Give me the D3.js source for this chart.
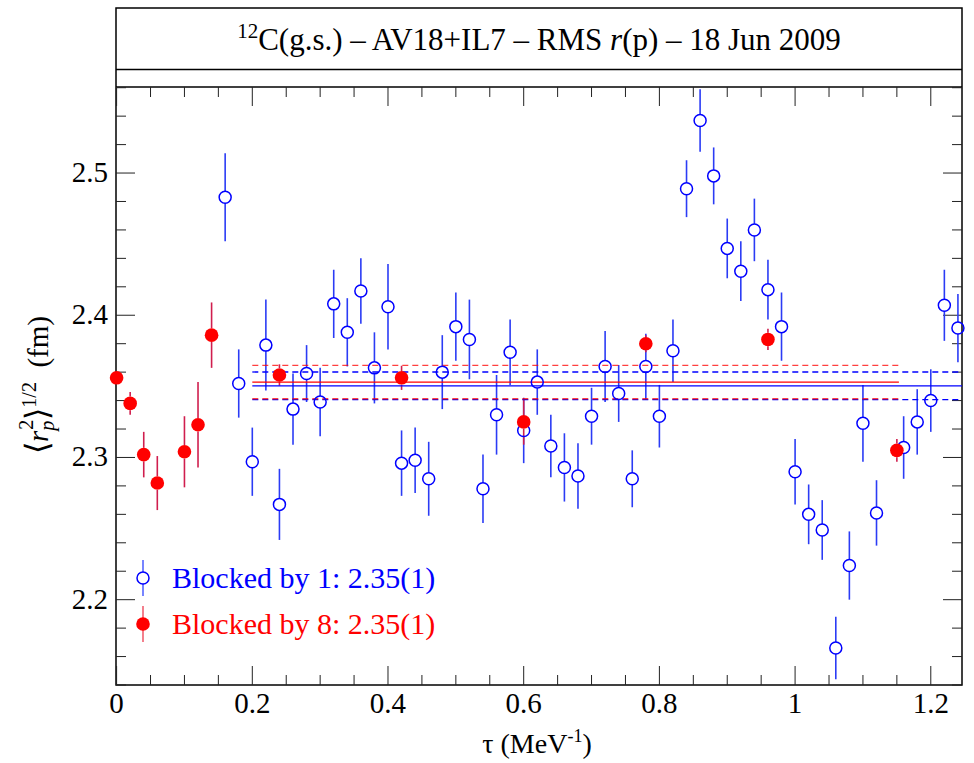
<!DOCTYPE html>
<html>
<head>
<meta charset="utf-8">
<script src="https://cdn.jsdelivr.net/npm/d3@7"></script>
<style>
  body { margin: 0; background: #fff; }
  svg { display: block; }
  text { font-family: "Liberation Serif", "Times New Roman", serif; }
</style>
</head>
<body>
<svg width="974" height="763"></svg>
<script>
// Blocked by 1 (open blue circles)
const blueTau = [0.16,0.18,0.20,0.22,0.24,0.26,0.28,0.30,0.32,0.34,0.36,0.38,0.40,0.42,0.44,0.46,0.48,0.50,0.52,0.54,
  0.56,0.58,0.60,0.62,0.64,0.66,0.68,0.70,0.72,0.74,0.76,0.78,0.80,0.82,0.84,0.86,0.88,0.90,0.92,0.94,
  0.96,0.98,1.00,1.02,1.04,1.06,1.08,1.10,1.12,1.16,1.18,1.20,1.22,1.24];
const blueVal = [2.483,2.352,2.297,2.379,2.267,2.334,2.359,2.339,2.408,2.388,2.417,2.363,2.406,2.296,2.298,2.285,2.360,2.392,2.383,2.278,
  2.330,2.374,2.319,2.353,2.308,2.293,2.287,2.329,2.364,2.345,2.285,2.364,2.329,2.375,2.489,2.537,2.498,2.447,2.431,2.460,
  2.418,2.392,2.290,2.260,2.249,2.166,2.224,2.324,2.261,2.307,2.325,2.340,2.407,2.391];
const blueErr = [0.031,0.024,0.024,0.032,0.025,0.025,0.020,0.024,0.024,0.024,0.023,0.025,0.030,0.023,0.023,0.026,0.026,0.024,0.028,0.024,
  0.028,0.023,0.023,0.023,0.022,0.024,0.023,0.020,0.025,0.020,0.020,0.023,0.022,0.022,0.020,0.022,0.020,0.021,0.021,0.022,
  0.021,0.024,0.023,0.021,0.021,0.022,0.024,0.027,0.023,0.022,0.023,0.022,0.025,0.024];

// Blocked by 8 (filled red circles)
const redTau = [0, 0.02, 0.04, 0.06, 0.10, 0.12, 0.14, 0.24, 0.42, 0.60, 0.78, 0.96, 1.15];
const redVal = [2.356, 2.338, 2.302, 2.282, 2.304, 2.323, 2.386, 2.358, 2.356, 2.325, 2.380, 2.383, 2.305];
const redErr = [0.003, 0.008, 0.016, 0.019, 0.025, 0.030, 0.023, 0.0075, 0.0085, 0.016, 0.006, 0.0075, 0.008];

// averages: blue, red
const fitMean = [2.3504, 2.3530];
const fitErr = [0.0097, 0.0117];
const fitFrom = [0.2, 0.2];
const fitTo = [1.246, 1.153];

const legendText = ["Blocked by 1: 2.35(1)", "Blocked by 8: 2.35(1)"];
const xTicks = [0, 0.2, 0.4, 0.6, 0.8, 1, 1.2];
const yTicks = [2.2, 2.3, 2.4, 2.5];

const BLUE = "#0000ff", RED = "#ff0000";

var svg = d3.select("svg");
var pLeft = 116, pRight = 962, pTop = 87, pBottom = 685;

var x = d3.scaleLinear().domain([0, 1.246]).range([116.6, 962]);
var y = d3.scaleLinear().domain([2.14, 2.5605]).range([pBottom, pTop]);

// frame + title box
svg.append("rect").attr("x", pLeft).attr("y", 8).attr("width", pRight - pLeft).attr("height", pBottom - 8)
  .attr("fill", "none").attr("stroke", "#000").attr("stroke-width", 1.5);
svg.append("line").attr("x1", pLeft).attr("x2", pRight).attr("y1", 69.5).attr("y2", 69.5)
  .attr("stroke", "#000").attr("stroke-width", 1.5);
svg.append("line").attr("x1", pLeft).attr("x2", pRight).attr("y1", pTop).attr("y2", pTop)
  .attr("stroke", "#000").attr("stroke-width", 1.5);

var title = svg.append("text").attr("x", (pLeft + pRight) / 2).attr("y", 50)
  .attr("text-anchor", "middle").attr("font-size", 31);
title.append("tspan").attr("font-size", 21).attr("dy", -12).text("12");
title.append("tspan").attr("dy", 12).text("C(g.s.) \u2013 AV18+IL7 \u2013 RMS ");
title.append("tspan").attr("font-style", "italic").text("r");
title.append("tspan").text("(p) \u2013 18 Jun 2009");

// ticks
var g = svg.append("g").attr("stroke", "#222").attr("stroke-width", 1);
var xMinor = d3.range(0, 1.2501, 0.05).filter(v => v <= 1.246);
xMinor.forEach(function (v) {
  var major = Math.abs(v / 0.2 - Math.round(v / 0.2)) < 1e-6;
  var len = major ? 19 : 10;
  g.append("line").attr("x1", x(v)).attr("x2", x(v)).attr("y1", pBottom).attr("y2", pBottom - len);
  g.append("line").attr("x1", x(v)).attr("x2", x(v)).attr("y1", pTop).attr("y2", pTop + len);
});
var yMinor = d3.range(2.14, 2.5605, 0.02);
yMinor.forEach(function (v) {
  var major = Math.abs(v * 10 - Math.round(v * 10)) < 1e-6;
  var len = major ? 19 : 10;
  g.append("line").attr("x1", pLeft).attr("x2", pLeft + len).attr("y1", y(v)).attr("y2", y(v));
  g.append("line").attr("x1", pRight).attr("x2", pRight - len).attr("y1", y(v)).attr("y2", y(v));
});

// tick labels
svg.selectAll(".xl").data(xTicks).enter().append("text")
  .attr("x", d => x(d)).attr("y", 713).attr("text-anchor", "middle").attr("font-size", 29)
  .text(d => d3.format("~g")(d));
svg.selectAll(".yl").data(yTicks).enter().append("text")
  .attr("x", 108).attr("y", d => y(d) + 9).attr("text-anchor", "end").attr("font-size", 29)
  .text(d => d3.format(".1f")(d));

// axis titles
var xt = svg.append("text").attr("x", 537).attr("y", 753).attr("text-anchor", "middle").attr("font-size", 28);
xt.append("tspan").text("\u03c4 (MeV");
xt.append("tspan").attr("font-size", 18).attr("dy", -11).text("-1");
xt.append("tspan").attr("dy", 11).text(")");

var yt = svg.append("text").attr("transform", "translate(48,385) rotate(-90)")
  .attr("text-anchor", "middle").attr("font-size", 29);
yt.append("tspan").attr("font-size", 32).text("\u27e8");
yt.append("tspan").attr("font-style", "italic").text("r");
yt.append("tspan").attr("font-style", "italic").attr("font-size", 20).attr("dy", 6).text("p");
yt.append("tspan").attr("font-size", 20).attr("dx", -9).attr("dy", -21).text("2");
yt.append("tspan").attr("font-size", 32).attr("dy", 15).text("\u27e9");
yt.append("tspan").attr("font-size", 20).attr("dy", -12).text("1/2");
yt.append("tspan").attr("dy", 12).text("\u2002(fm)");

// clip error bars to frame (markers are not clipped)
svg.append("clipPath").attr("id", "clip").append("rect")
  .attr("x", pLeft).attr("y", pTop).attr("width", pRight - pLeft).attr("height", pBottom - pTop);
var plot = svg.append("g").attr("clip-path", "url(#clip)");
var marks = svg.append("g");

function drawSeries(tau, val, err, color, barColor, r, filled) {
  var pts = tau.map((t, i) => ({t: t, v: val[i], e: err[i]}));
  var s = plot.append("g"), m = marks.append("g");
  pts.forEach(function (d) {
    var cx = x(d.t), cy = y(d.v), hi = y(d.v + d.e), lo = y(d.v - d.e);
    if (cy - r > hi) s.append("line").attr("x1", cx).attr("x2", cx).attr("y1", hi).attr("y2", cy - r)
      .attr("stroke", barColor).attr("stroke-width", 1.6);
    if (cy + r < lo) s.append("line").attr("x1", cx).attr("x2", cx).attr("y1", cy + r).attr("y2", lo)
      .attr("stroke", barColor).attr("stroke-width", 1.6);
    m.append("circle").attr("cx", cx).attr("cy", cy).attr("r", r)
      .attr("fill", filled ? color : "none")
      .attr("stroke", color).attr("stroke-width", filled ? 0 : 1.5);
  });
}

drawSeries(blueTau, blueVal, blueErr, BLUE, "#2b3cf5", 6, false);
drawSeries(redTau, redVal, redErr, RED, "#d01e4e", 6.8, true);

// average lines
var colors = [BLUE, RED];
fitMean.forEach(function (m, i) {
  var c = colors[i];
  plot.append("line").attr("x1", x(fitFrom[i])).attr("x2", x(fitTo[i]))
    .attr("y1", y(m)).attr("y2", y(m)).attr("stroke", c).attr("stroke-width", 1.3);
  [m + fitErr[i], m - fitErr[i]].forEach(function (v) {
    plot.append("line").attr("x1", x(fitFrom[i])).attr("x2", x(fitTo[i]))
      .attr("y1", y(v)).attr("y2", y(v)).attr("stroke", c).attr("stroke-width", 1.3)
      .attr("stroke-dasharray", "6,4").attr("opacity", i === 1 ? 0.75 : 1);
  });
});

// legend
var leg = [{c: BLUE, bar: "#5566ff", filled: false, y: 578}, {c: RED, bar: "#f06070", filled: true, y: 624}];
leg.forEach(function (d, i) {
  svg.append("line").attr("x1", 143).attr("x2", 143).attr("y1", d.y - 18).attr("y2", d.y + 18)
    .attr("stroke", d.bar).attr("stroke-width", 1.6);
  svg.append("circle").attr("cx", 143).attr("cy", d.y).attr("r", d.filled ? 6.8 : 6)
    .attr("fill", d.filled ? d.c : "#fff").attr("stroke", d.c).attr("stroke-width", d.filled ? 0 : 1.5);
  svg.append("text").attr("x", 172).attr("y", d.y + 9.5).attr("font-size", 30)
    .attr("fill", d.c).text(legendText[i]);
});
</script>
</body>
</html>
